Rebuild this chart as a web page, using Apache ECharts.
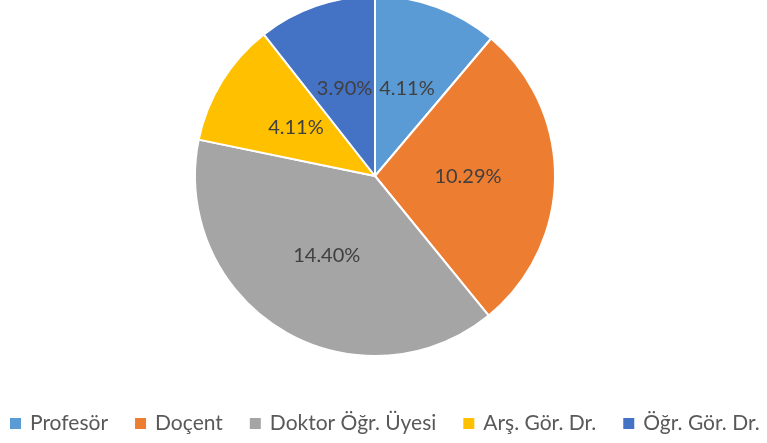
<!DOCTYPE html>
<html>
<head>
<meta charset="utf-8">
<script src="https://cdn.jsdelivr.net/npm/echarts@6/dist/echarts.min.js"></script>
<style>
  html, body { margin: 0; padding: 0; background: #fff; }
  #chart { width: 767px; height: 443px; }
</style>
</head>
<body>
<div id="chart"></div>
<script>
const categories = ["Profesör", "Doçent", "Doktor Öğr. Üyesi", "Arş. Gör. Dr.", "Öğr. Gör. Dr."];
const values = [4.11, 10.29, 14.40, 4.11, 3.90];
const colors = ["#5B9BD5", "#ED7D31", "#A5A5A5", "#FFC000", "#4472C4"];

const chart = echarts.init(document.getElementById("chart"));

const option = {
  color: colors,
  legend: {
    top: 413,
    left: 8,
    right: 0,
    padding: 0,
    itemWidth: 13,
    itemHeight: 13,
    itemGap: 25,
    icon: "rect",
    textStyle: {
      color: "#595959",
      fontSize: 21,
      fontFamily: "Lato",
      padding: [0, 0, 0, 3],
    },
    data: categories,
  },
  series: [
    {
      type: "pie",
      center: [375, 176],
      radius: 180,
      startAngle: 90,
      clockwise: true,
      itemStyle: {
        borderColor: "#fff",
        borderWidth: 2,
      },
      label: {
        show: true,
        position: "inside",
        formatter: (p) => p.value.toFixed(2) + "%",
        color: "#404040",
        fontSize: 20,
        fontFamily: "Lato",
      },
      labelLine: { show: false },
      emphasis: { disabled: true },
      data: categories.map((name, i) => ({ name: name, value: values[i] })),
    },
  ],
};

chart.setOption(option);
</script>
</body>
</html>
